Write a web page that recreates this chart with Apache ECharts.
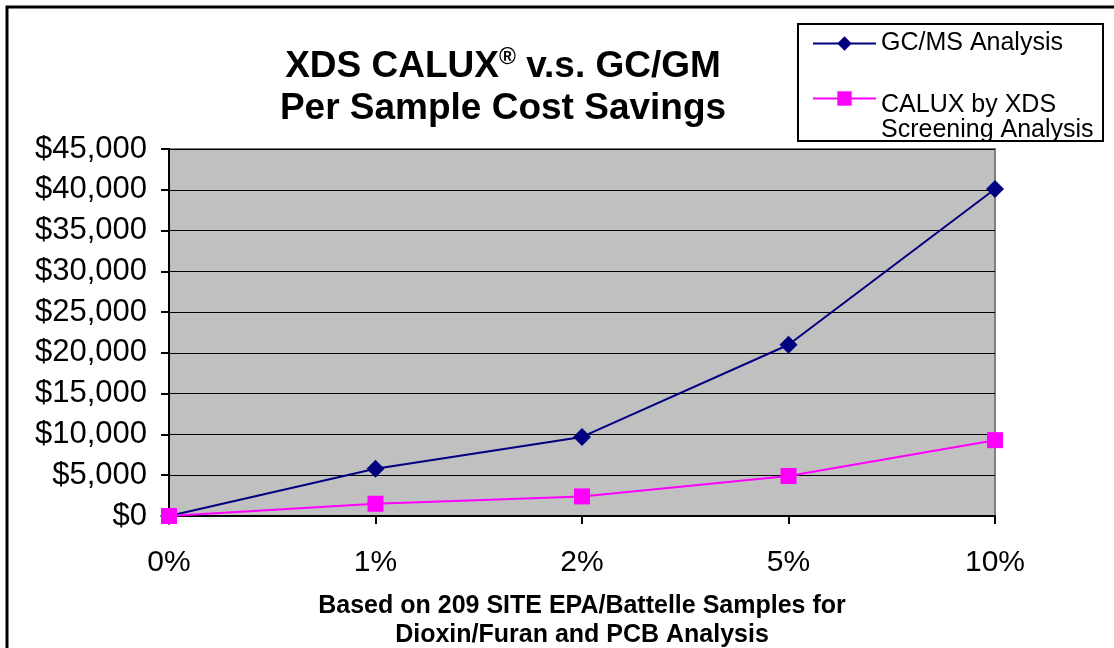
<!DOCTYPE html>
<html>
<head>
<meta charset="utf-8">
<script src="https://cdn.jsdelivr.net/npm/echarts@6/dist/echarts.min.js"></script>
<style>html,body{margin:0;padding:0;background:#fff}#c{width:1114px;height:648px}</style>
</head>
<body>
<div id="c"></div>
<script>
var categories = ['0%', '1%', '2%', '5%', '10%'];
var gcmsValues = [0, 5800, 9700, 21000, 40100];
var caluxValues = [0, 1500, 2400, 4900, 9300];
var seriesNames = ['GC/MS Analysis', 'CALUX by XDS\nScreening Analysis'];
var yMin = 0, yMax = 45000, yStep = 5000;

var FONT = '"Liberation Sans", Arial, sans-serif';
var chart = echarts.init(document.getElementById('c'));
chart.setOption({
  animation: false,
  backgroundColor: '#ffffff',
  title: {
    text: 'XDS CALUX{sup|®} v.s. GC/GM\nPer Sample Cost Savings',
    left: 498, top: 41, textAlign: 'center',
    textStyle: {
      fontFamily: FONT, fontSize: 37, fontWeight: 'bold', color: '#000', lineHeight: 42,
      rich: { sup: { fontFamily: FONT, fontSize: 23, fontWeight: 'bold', color: '#000', padding: [0, 0, 18, 0] } }
    }
  },
  graphic: [
    { type: 'rect', shape: { x: 7, y: 7, width: 1300, height: 900 }, style: { fill: 'none', stroke: '#000', lineWidth: 3 }, z: 100 },
    { type: 'rect', shape: { x: 798, y: 24, width: 305, height: 117 }, style: { fill: '#fff', stroke: '#000', lineWidth: 2 }, z: 1 }
  ],
  legend: {
    orient: 'vertical', left: 812, top: 31, itemWidth: 63, itemHeight: 18, itemGap: -2,
    padding: 0, z: 10,
    textStyle: { fontFamily: FONT, fontSize: 25, color: '#000', lineHeight: 25,
      rich: { s: { fontSize: 10, lineHeight: 39 } } },
    formatter: function (name) { return name === seriesNames[1] ? '{s| }\n' + name : name; },
    data: seriesNames
  },
  grid: { left: 169, top: 149, right: 119, bottom: 132, outerBoundsMode: 'none', show: true, backgroundColor: '#c0c0c0', borderColor: '#808080', borderWidth: 2 },
  xAxis: {
    type: 'category', data: categories, boundaryGap: false,
    axisLine: { lineStyle: { color: '#000', width: 2 } },
    axisTick: { show: true, length: 8, lineStyle: { color: '#000', width: 2 } },
    axisLabel: { fontFamily: FONT, fontSize: 30, color: '#000', margin: 32 },
    name: 'Based on 209 SITE EPA/Battelle Samples for\nDioxin/Furan and PCB Analysis',
    nameLocation: 'middle', nameGap: 76,
    nameTextStyle: { fontFamily: FONT, fontSize: 25, fontWeight: 'bold', color: '#000', lineHeight: 29 }
  },
  yAxis: {
    type: 'value', min: yMin, max: yMax, interval: yStep,
    axisLine: { show: true, lineStyle: { color: '#000', width: 2 } },
    axisTick: { show: true, length: 8, lineStyle: { color: '#000', width: 2 } },
    splitLine: { lineStyle: { color: '#000', width: 1 } },
    axisLabel: {
      fontFamily: FONT, fontSize: 31, color: '#000', margin: 22,
      formatter: function (v) { return '$' + v.toLocaleString('en-US'); }
    }
  },
  series: [
    { name: seriesNames[0], type: 'line', data: gcmsValues, symbol: 'diamond', symbolSize: 18,
      lineStyle: { color: '#000080', width: 2 }, itemStyle: { color: '#000080' }, z: 3 },
    { name: seriesNames[1], type: 'line', data: caluxValues, symbol: 'rect', symbolSize: 16,
      lineStyle: { color: '#ff00ff', width: 2 }, itemStyle: { color: '#ff00ff' }, z: 4 }
  ]
});
</script>
</body>
</html>
